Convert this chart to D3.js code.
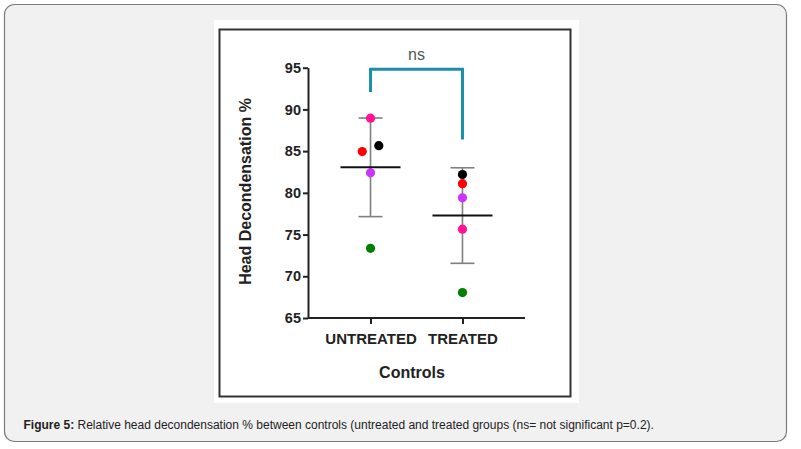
<!DOCTYPE html>
<html>
<head>
<meta charset="utf-8">
<script src="https://cdn.jsdelivr.net/npm/d3@7"></script>
<style>
  html, body { margin: 0; padding: 0; background: #fff; }
  svg { display: block; font-family: 'Liberation Sans', Arial, sans-serif; }
</style>
</head>
<body>
<svg id="chart" width="801" height="449"></svg>
<script>
// data
const groups = ['UNTREATED', 'TREATED']
const subjectColors = ['#ff1493', '#ff0000', '#000000', '#cc33ff', '#008000']
const untreatedValues = [88.95, 84.95, 85.65, 82.4, 73.35]
const treatedValues = [75.65, 81.1, 82.2, 79.4, 68.05]
const yTicks = [65, 70, 75, 80, 85, 90, 95]
const bracket = { top: 94.8, leftEnd: 92.1, rightEnd: 86.4, label: 'ns' }
const caption = 'Relative head decondensation % between controls (untreated and treated groups (ns= not significant p=0.2).'

const svg = d3.select('#chart')

// card + figure frame
svg.append('rect')
  .attr('x', 4.5).attr('y', 4.5).attr('width', 782).attr('height', 437)
  .attr('rx', 10)
  .attr('fill', '#f1f1f1').attr('stroke', '#7a7a7a').attr('stroke-width', 1.2)
svg.append('rect')
  .attr('x', 214).attr('y', 20).attr('width', 365).attr('height', 383)
  .attr('fill', '#fff')
svg.append('rect')
  .attr('x', 219.5).attr('y', 29.5).attr('width', 351).attr('height', 367)
  .attr('fill', 'none').attr('stroke', '#333').attr('stroke-width', 2)

const x = d3.scalePoint().domain(groups).range([308, 525]).padding(0.68)
const y = d3.scaleLinear().domain([65, 95]).range([318, 67.7])

const g = svg.append('g')

// axes
const yAxis = g.append('g')
  .attr('transform', 'translate(308,0)')
  .call(d3.axisLeft(y).tickValues(yTicks).tickSize(5).tickSizeOuter(0).tickPadding(2))
const xAxis = g.append('g')
  .attr('transform', 'translate(0,318)')
  .call(d3.axisBottom(x).tickSize(6).tickSizeOuter(0).tickPadding(9))
xAxis.select('.domain').attr('d', 'M308,0H525')

;[yAxis, xAxis].forEach((a) => {
  a.select('.domain').attr('stroke', '#222').attr('stroke-width', 2)
  a.selectAll('.tick line').attr('stroke', '#222').attr('stroke-width', 2)
  a.selectAll('.tick text')
    .attr('fill', '#222')
    .attr('font-family', "'Liberation Sans', Arial, sans-serif")
    .attr('font-weight', 'bold')
})
yAxis.selectAll('.tick text').attr('font-size', 14.5)
xAxis.selectAll('.tick text').attr('font-size', 15)

g.append('text')
  .attr('transform', 'translate(251,191.5) rotate(-90)')
  .attr('text-anchor', 'middle')
  .attr('font-size', 16).attr('font-weight', 'bold').attr('fill', '#222')
  .text('Head Decondensation %')
g.append('text')
  .attr('x', 412).attr('y', 378)
  .attr('text-anchor', 'middle')
  .attr('font-size', 16).attr('font-weight', 'bold').attr('fill', '#222')
  .text('Controls')

// per-group summary
const series = [
  { group: groups[0], values: untreatedValues },
  { group: groups[1], values: treatedValues }
].map((s) => {
  const mean = d3.mean(s.values)
  const sd = d3.deviation(s.values)
  return { ...s, mean, sd }
})

const radius = 4.6
const capHalf = 12
const meanHalf = 30

// error bars
const eb = g.selectAll('.errbar').data(series).join('g').attr('class', 'errbar')
  .attr('stroke', '#7f7f7f').attr('stroke-width', 1.6)
eb.append('line')
  .attr('x1', (d) => x(d.group)).attr('x2', (d) => x(d.group))
  .attr('y1', (d) => y(d.mean - d.sd)).attr('y2', (d) => y(d.mean + d.sd))
eb.append('line')
  .attr('x1', (d) => x(d.group) - capHalf).attr('x2', (d) => x(d.group) + capHalf)
  .attr('y1', (d) => y(d.mean + d.sd)).attr('y2', (d) => y(d.mean + d.sd))
eb.append('line')
  .attr('x1', (d) => x(d.group) - capHalf).attr('x2', (d) => x(d.group) + capHalf)
  .attr('y1', (d) => y(d.mean - d.sd)).attr('y2', (d) => y(d.mean - d.sd))

// dodge points that would overlap
function dodge (values, group) {
  const pts = values.map((v, i) => ({ v, i, group, dx: 0 }))
  const sorted = pts.slice().sort((a, b) => a.v - b.v)
  for (let k = 1; k < sorted.length; k++) {
    const a = sorted[k - 1]
    const b = sorted[k]
    if (Math.abs(y(a.v) - y(b.v)) < radius * 1.5 && a.dx === 0 && b.dx === 0) {
      a.dx = -radius * 1.8
      b.dx = radius * 1.8
    }
  }
  return pts
}

const points = series.flatMap((s) => dodge(s.values, s.group))
g.selectAll('.pt').data(points).join('circle')
  .attr('class', 'pt')
  .attr('cx', (d) => x(d.group) + d.dx)
  .attr('cy', (d) => y(d.v))
  .attr('r', radius)
  .attr('fill', (d) => subjectColors[d.i])

// mean lines
g.selectAll('.mean').data(series).join('line')
  .attr('class', 'mean')
  .attr('x1', (d) => x(d.group) - meanHalf).attr('x2', (d) => x(d.group) + meanHalf)
  .attr('y1', (d) => y(d.mean)).attr('y2', (d) => y(d.mean))
  .attr('stroke', '#111').attr('stroke-width', 2)

// significance bracket
const x0 = x(groups[0])
const x1 = x(groups[1])
g.append('path')
  .attr('d', d3.line()([
    [x0, y(bracket.leftEnd)], [x0, y(bracket.top)],
    [x1, y(bracket.top)], [x1, y(bracket.rightEnd)]
  ]))
  .attr('fill', 'none').attr('stroke', '#1b8fa8').attr('stroke-width', 3)
g.append('text')
  .attr('x', (x0 + x1) / 2).attr('y', 59.5)
  .attr('text-anchor', 'middle')
  .attr('font-size', 16).attr('fill', '#555')
  .text(bracket.label)

// caption
const cap = svg.append('text')
  .attr('x', 23.5).attr('y', 428.5)
  .attr('font-size', 12).attr('fill', '#222')
cap.append('tspan').attr('font-weight', 'bold').text('Figure 5:')
cap.append('tspan').text(' ' + caption)
</script>
</body>
</html>
